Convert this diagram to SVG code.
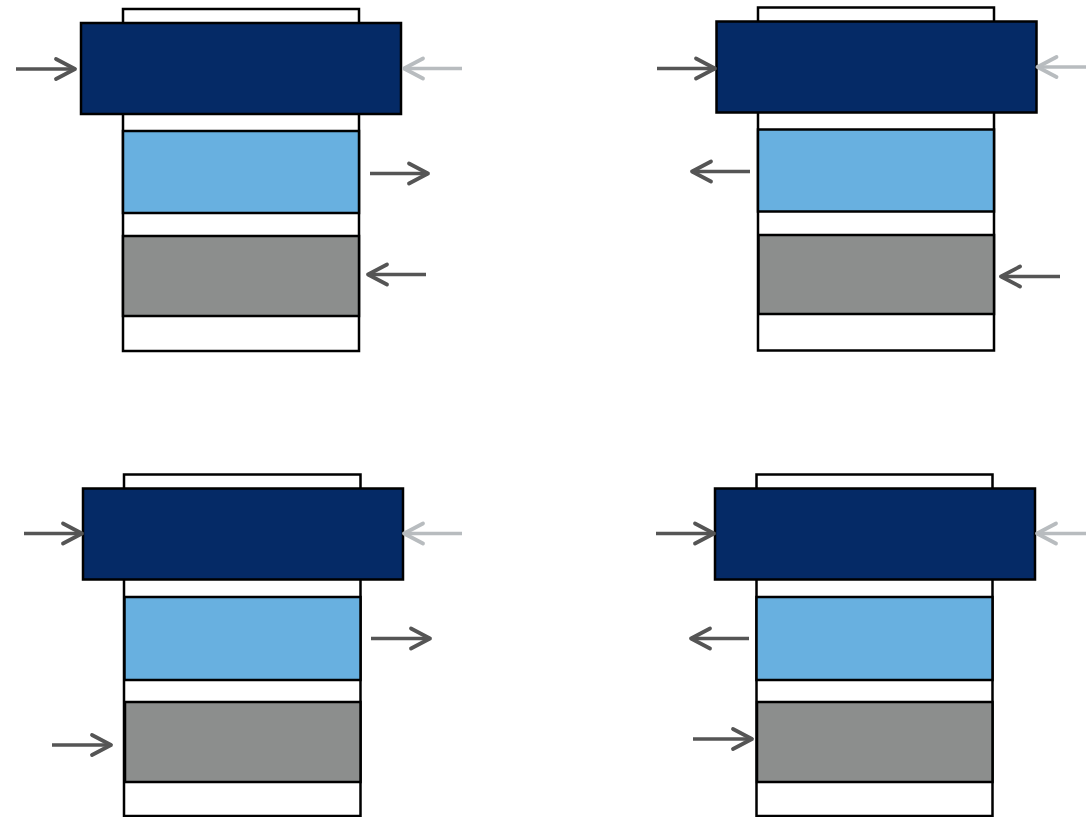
<svg xmlns="http://www.w3.org/2000/svg" width="1086" height="817" viewBox="0 0 1086 817">
<style>
.frame{fill:#ffffff;stroke:#000000;stroke-width:2.5}
.dark{fill:#052a66;stroke:#000000;stroke-width:2.5}
.light{fill:#68b0e0;stroke:#000000;stroke-width:2.5}
.grey{fill:#8c8e8d;stroke:#000000;stroke-width:2.5}
.arr{fill:none;stroke:#555555;stroke-width:3.5;marker-end:url(#hd)}
.arrl{fill:none;stroke:#b8bcbf;stroke-width:3.5;marker-end:url(#hl)}
</style>
<defs>
<marker id="hd" viewBox="-24 -14 28 28" markerWidth="28" markerHeight="28" refX="0" refY="0" orient="auto" markerUnits="userSpaceOnUse">
<path d="M-19,-10 L0,0 L-19,10" fill="none" stroke="#555555" stroke-width="3.8" stroke-linecap="round" stroke-linejoin="round"/>
</marker>
<marker id="hl" viewBox="-24 -14 28 28" markerWidth="28" markerHeight="28" refX="0" refY="0" orient="auto" markerUnits="userSpaceOnUse">
<path d="M-19,-10 L0,0 L-19,10" fill="none" stroke="#b8bcbf" stroke-width="3.8" stroke-linecap="round" stroke-linejoin="round"/>
</marker>
</defs>
<rect width="1086" height="817" fill="#ffffff"/>
<g id="panel-tl">
<rect class="frame" x="123" y="9" width="236" height="342"/>
<rect class="dark" x="81" y="23" width="320" height="91"/>
<rect class="light" x="123" y="131" width="236" height="82"/>
<rect class="grey" x="123" y="236" width="236" height="80"/>
</g>
<g id="panel-tr">
<rect class="frame" x="758" y="7.5" width="236" height="343"/>
<rect class="dark" x="716.5" y="21.5" width="320" height="91"/>
<rect class="light" x="758" y="129.5" width="236" height="82"/>
<rect class="grey" x="758.5" y="235" width="235.5" height="79"/>
</g>
<g id="panel-bl">
<rect class="frame" x="124" y="474.5" width="236.5" height="341.5"/>
<rect class="dark" x="83" y="488.5" width="320" height="91"/>
<rect class="light" x="124.5" y="597" width="236" height="83"/>
<rect class="grey" x="125" y="702" width="235.5" height="80"/>
</g>
<g id="panel-br">
<rect class="frame" x="756.5" y="474.5" width="236" height="341.5"/>
<rect class="dark" x="715" y="488.5" width="320" height="91"/>
<rect class="light" x="756.5" y="597" width="236" height="83"/>
<rect class="grey" x="757" y="702" width="235.5" height="80"/>
</g>
<g id="connectors">
<path class="arr" d="M16,69 H75"/>
<path class="arrl" d="M462,68.5 H404"/>
<path class="arr" d="M370,173.5 H428"/>
<path class="arr" d="M426,274.5 H368"/>

<path class="arr" d="M657,68.5 H715"/>
<path class="arrl" d="M1090,67 H1037.5"/>
<path class="arr" d="M750,171.5 H692"/>
<path class="arr" d="M1060,276.5 H1001"/>

<path class="arr" d="M24,533.5 H82"/>
<path class="arrl" d="M462,533.5 H404"/>
<path class="arr" d="M371,638.5 H430"/>
<path class="arr" d="M52,745 H111"/>

<path class="arr" d="M656,533.5 H714"/>
<path class="arrl" d="M1090,533.5 H1037"/>
<path class="arr" d="M749,638.5 H691"/>
<path class="arr" d="M693,739 H752"/>
</g>
</svg>
